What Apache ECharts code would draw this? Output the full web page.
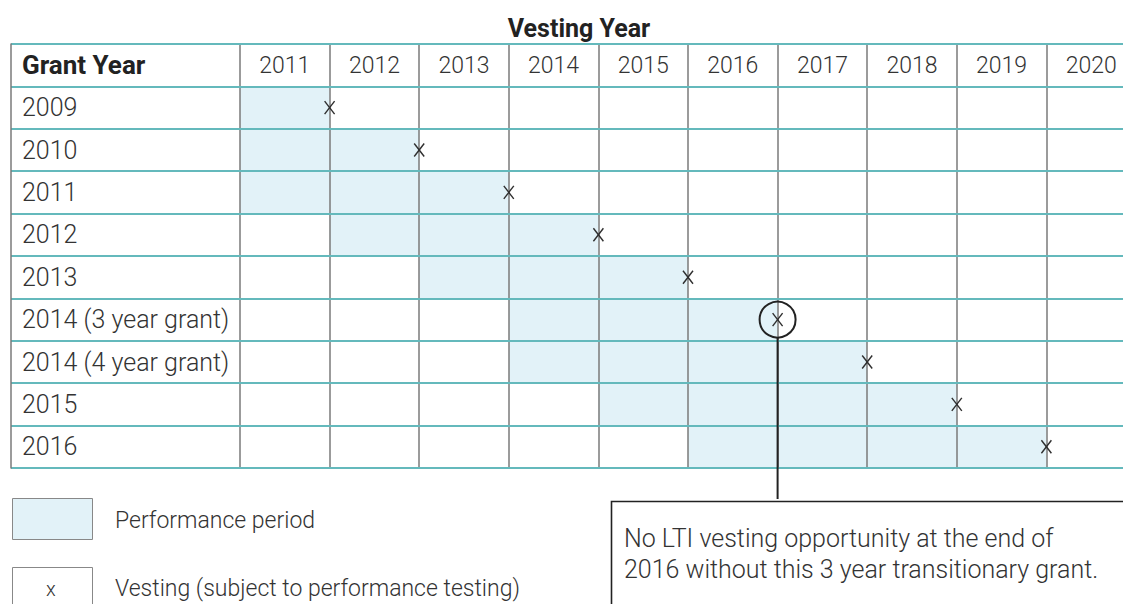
<!DOCTYPE html>
<html><head><meta charset="utf-8">
<script src="https://cdn.jsdelivr.net/npm/echarts@6/dist/echarts.min.js"></script>
<style>html,body{margin:0;padding:0;background:#fff}#c{width:1123px;height:604px}</style>
</head><body><div id="c"></div>
<script>
// ---- data ----
const vestingYears = ['2011','2012','2013','2014','2015','2016','2017','2018','2019','2020'];
const grantYears = ['2009','2010','2011','2012','2013','2014 (3 year grant)','2014 (4 year grant)','2015','2016'];
const perfStart = ['2011','2011','2011','2012','2013','2014','2014','2015','2016'];
const perfEnd   = ['2011','2012','2013','2014','2015','2016','2017','2018','2019'];
const highlighted = ['2014 (3 year grant)'];
const headerLabel = 'Grant Year';
const titleText = 'Vesting Year';
const legendPeriod = 'Performance period';
const legendVesting = 'Vesting (subject to performance testing)';
const calloutLines = ['No LTI vesting opportunity at the end of', '2016 without this 3 year transitionary grant.'];

// ---- styles ----
const FONT = 'Roboto';
const LIGHT = 300;
const TEAL = '#64b9bc';
const GREY = '#7a7a7a';
const FILL = '#e2f2f8';
const INK = '#2e2e2e';
const CALLOUT_TOP = 499;

const rows = [headerLabel].concat(grantYears);
const cellData = grantYears.map((g, i) => [vestingYears.indexOf(perfStart[i]), vestingYears.indexOf(perfEnd[i]), rows.indexOf(g)]);

const chart = echarts.init(document.getElementById('c'), null, {renderer: 'svg'});

function cellRect(params, api) {
  const s = api.value(0), e = api.value(1), r = api.value(2);
  const p0 = api.coord([s, r]), p1 = api.coord([e, r]);
  const sz = api.size([1, 1]);
  return {type: 'rect', shape: {x: p0[0] - sz[0] / 2, y: p0[1] - sz[1] / 2, width: p1[0] - p0[0] + sz[0], height: sz[1]},
          style: {fill: FILL}};
}
function vestMark(params, api) {
  const e = api.value(1), r = api.value(2);
  const p = api.coord([e, r]);
  const sz = api.size([1, 1]);
  const cx = p[0] + sz[0] / 2, cy = p[1];
  const st = {stroke: INK, lineWidth: 1.4};
  const ch = [
    {type: 'line', shape: {x1: cx - 5, y1: cy - 6.5, x2: cx + 5, y2: cy + 6.5}, style: st},
    {type: 'line', shape: {x1: cx + 5, y1: cy - 6.5, x2: cx - 5, y2: cy + 6.5}, style: st}
  ];
  if (highlighted.indexOf(grantYears[params.dataIndex]) >= 0) {
    ch.push({type: 'circle', shape: {cx: cx, cy: cy, r: 18}, style: {fill: 'none', stroke: '#222', lineWidth: 2}});
    ch.push({type: 'line', shape: {x1: cx, y1: cy + 18, x2: cx, y2: CALLOUT_TOP}, style: {stroke: '#222', lineWidth: 2}});
  }
  return {type: 'group', children: ch};
}

const option = {
  animation: false,
  backgroundColor: '#fff',
  textStyle: {fontFamily: FONT},
  title: {text: titleText, left: 574, top: 11, textAlign: 'center',
          textStyle: {fontFamily: FONT, fontSize: 25, fontWeight: 'bold', color: '#222'}},
  grid: [
    {left: 11, top: 44, width: 229, height: 424, outerBoundsMode: 'none'},
    {left: 240, top: 44, width: 896, height: 424, outerBoundsMode: 'none'}
  ],
  xAxis: [
    {gridIndex: 0, type: 'category', data: [''], show: false},
    {gridIndex: 1, type: 'category', data: vestingYears, position: 'top', z: 1,
     axisLine: {show: false}, axisTick: {show: false},
     axisLabel: {inside: true, margin: 21, verticalAlign: 'middle', fontSize: 23, fontWeight: LIGHT, color: '#333', fontFamily: FONT},
     splitLine: {show: true, lineStyle: {color: GREY, width: 1.5}}}
  ],
  yAxis: [
    {gridIndex: 0, type: 'category', data: rows, inverse: true, z: 2,
     axisLine: {show: true, lineStyle: {color: GREY, width: 1.5}}, axisTick: {show: false},
     axisLabel: {inside: true, margin: 11, fontSize: 25, fontWeight: LIGHT, color: '#333', fontFamily: FONT,
       formatter: v => v === headerLabel ? '{b|' + v + '}' : v,
       rich: {b: {fontSize: 26, fontWeight: 'bold', color: '#222', fontFamily: FONT}}},
     splitLine: {show: true, lineStyle: {color: TEAL, width: 2}}},
    {gridIndex: 1, type: 'category', data: rows, inverse: true, z: 2,
     axisLine: {show: false}, axisTick: {show: false}, axisLabel: {show: false},
     splitLine: {show: true, lineStyle: {color: TEAL, width: 2}}}
  ],
  series: [
    {type: 'custom', name: 'Performance period', xAxisIndex: 1, yAxisIndex: 1, z: 0,
     dimensions: ['start', 'end', 'row'], encode: {x: [0, 1], y: 2},
     renderItem: cellRect, data: cellData, silent: true},
    {type: 'custom', name: 'Vesting', xAxisIndex: 1, yAxisIndex: 1, z: 5,
     dimensions: ['start', 'end', 'row'], encode: {x: [0, 1], y: 2},
     renderItem: vestMark, data: cellData, silent: true}
  ],
  graphic: [
    {type: 'rect', left: 12, top: 498, shape: {width: 80, height: 41}, style: {fill: FILL, stroke: '#888', lineWidth: 1}},
    {type: 'text', left: 115, top: 509, style: {text: legendPeriod, fontSize: 23, fontWeight: LIGHT, fill: '#333', fontFamily: FONT}},
    {type: 'rect', left: 12, top: 567, shape: {width: 80, height: 60}, style: {fill: '#fff', stroke: '#888', lineWidth: 1}},
    {type: 'text', left: 46, top: 579, style: {text: 'x', fontSize: 20, fontWeight: LIGHT, fill: '#333', fontFamily: FONT}},
    {type: 'text', left: 115, top: 577, style: {text: legendVesting, fontSize: 23, fontWeight: LIGHT, fill: '#333', fontFamily: FONT}},
    {type: 'rect', left: 609, top: CALLOUT_TOP, shape: {width: 600, height: 200}, style: {fill: 'none', stroke: '#222', lineWidth: 1.6}},
    {type: 'text', left: 624, top: 526, style: {text: calloutLines[0], fontSize: 25, fontWeight: LIGHT, fill: '#333', fontFamily: FONT}},
    {type: 'text', left: 624, top: 557, style: {text: calloutLines[1], fontSize: 25, fontWeight: LIGHT, fill: '#333', fontFamily: FONT}}
  ]
};
chart.setOption(option);
</script>
</body></html>
